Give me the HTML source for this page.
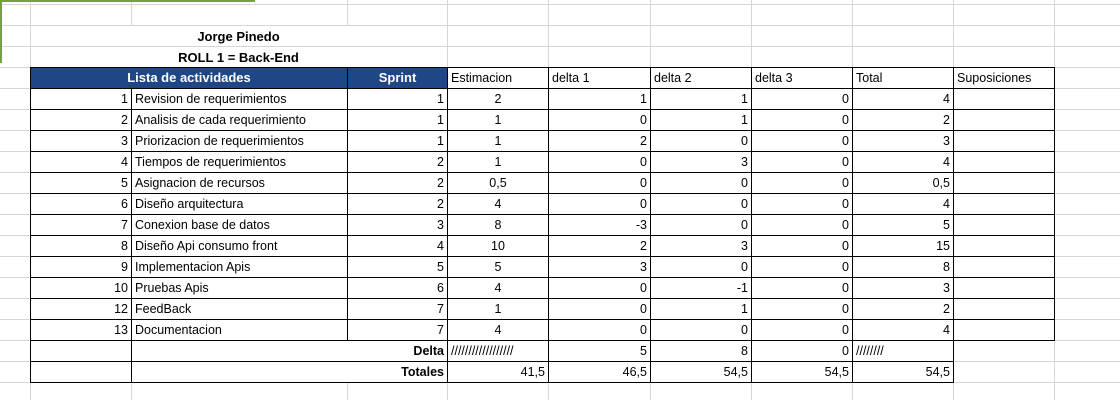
<!DOCTYPE html>
<html><head><meta charset="utf-8"><style>
body{margin:0;width:1120px;height:400px;overflow:hidden;background:#fff;font-family:"Liberation Sans",sans-serif;font-size:12.5px;color:#000;position:relative}
.gh{position:absolute;left:0;width:1120px;height:1px;background:#d6d6d6}
.gv{position:absolute;width:1px;background:#d6d6d6}
table{position:absolute;left:30px;top:67px;border-collapse:collapse;table-layout:fixed}
tr{height:21px}
td{border:1px solid #000;height:20px;max-height:20px;padding:0 3px;white-space:nowrap;overflow:hidden;line-height:20px;background:#fff}
.r{text-align:right}.c{text-align:center}.b{font-weight:bold}
.hd{background:#1f4788;color:#fff;font-weight:bold;text-align:center;font-size:13px}
.t{position:absolute;left:30px;width:417px;text-align:center;font-weight:bold;font-size:13px}
</style></head><body>
<div id="grid"></div>
<div style="position:absolute;left:31px;top:26px;width:416px;height:41px;background:#fff"></div>
<div style="position:absolute;left:31px;top:46px;width:416px;height:1px;background:#d6d6d6"></div>
<div style="position:absolute;left:0;top:0;width:255px;height:2px;background:#77a040"></div>
<div style="position:absolute;left:0;top:0;width:2px;height:63px;background:#77a040"></div>
<div class="t" style="top:29px">Jorge Pinedo</div>
<div class="t" style="top:50px">ROLL 1 = Back-End</div>
<table>
<colgroup><col style="width:101px"><col style="width:216px"><col style="width:100px"><col style="width:101px"><col style="width:102px"><col style="width:101px"><col style="width:101px"><col style="width:101px"><col style="width:101px"></colgroup>
<tbody id="tb">
<tr>
<td class="hd" colspan="2">Lista de actividades</td>
<td class="hd">Sprint</td>
<td>Estimacion</td>
<td>delta 1</td>
<td>delta 2</td>
<td>delta 3</td>
<td>Total</td>
<td>Suposiciones</td>
</tr>
</tbody></table>
<script>
const ids=[1,2,3,4,5,6,7,8,9,10,12,13];
const names=["Revision de requerimientos","Analisis de cada requerimiento","Priorizacion de requerimientos","Tiempos de requerimientos","Asignacion de recursos","Diseño arquitectura","Conexion base de datos","Diseño Api consumo front","Implementacion Apis","Pruebas Apis","FeedBack","Documentacion"];
const sprints=[1,1,1,2,2,2,3,4,5,6,7,7];
const est=["2","1","1","1","0,5","4","8","10","5","4","1","4"];
const d1=[1,0,2,0,0,0,-3,2,3,0,0,0];
const d2=[1,1,0,3,0,0,0,3,0,-1,1,0];
const d3=[0,0,0,0,0,0,0,0,0,0,0,0];
const tot=["4","2","3","4","0,5","4","5","15","8","3","2","4"];
const deltaRow=["5","8","0"];
const totales=["41,5","46,5","54,5","54,5","54,5"];
const grid=document.getElementById('grid');
for(let y=4;y<=382;y+=21){const d=document.createElement('div');d.className='gh';d.style.top=y+'px';


grid.appendChild(d);}
[30,131,347,447,548,650,751,852,953,1054].forEach(x=>{const d=document.createElement('div');d.className='gv';d.style.left=x+'px';d.style.top='0px';d.style.height='400px';


grid.appendChild(d);});
const tb=document.getElementById('tb');
function cell(tr,txt,cls,name,span){const td=document.createElement('td');td.textContent=txt;if(cls)td.className=cls;if(span)td.colSpan=span;


tr.appendChild(td);}
ids.forEach((id,i)=>{const tr=document.createElement('tr');


cell(tr,id,'r','activity-number');cell(tr,names[i],'','activity-name');cell(tr,sprints[i],'r','sprint-cell');
cell(tr,est[i],'c','estimacion-cell');cell(tr,d1[i],'r','delta1-cell');cell(tr,d2[i],'r','delta2-cell');cell(tr,d3[i],'r','delta3-cell');cell(tr,tot[i],'r','total-cell');cell(tr,'','','suposiciones-cell');tb.appendChild(tr);});
let tr=document.createElement('tr');


cell(tr,'','','empty-cell');cell(tr,'Delta','r b','delta-label',2);cell(tr,'//////////////////','','estimacion-filler');
deltaRow.forEach((v,k)=>cell(tr,v,'r','delta-sum-'+(k+1)));cell(tr,'////////','','total-filler');tb.appendChild(tr);
tr=document.createElement('tr');


cell(tr,'','','empty-cell');cell(tr,'Totales','r b','totales-label',2);
totales.forEach((v,k)=>cell(tr,v,'r','totales-value-'+(k+1)));tb.appendChild(tr);
</script>
</body></html>
